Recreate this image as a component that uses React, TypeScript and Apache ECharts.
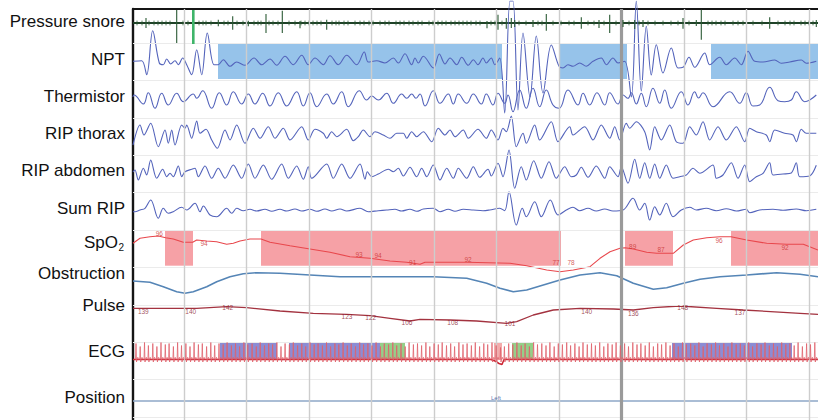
import React, { useEffect, useRef } from "react";
import * as echarts from "echarts";

// ---------- data (x in samples at 6.25 Hz, y in trace units) ----------
const SPAN = 685;
const channelNames = ["Pressure snore", "NPT", "Thermistor", "RIP thorax", "RIP abdomen", "Sum RIP", "SpO2", "Obstruction", "Pulse", "ECG", "Position"];
const gridTimes = [51, 113.5, 176, 238.5, 301, 363.5, 426, 551, 613.5, 676];
const markerTimes = [488.5];

const snoreSpikes = [[13,5,-5,0],[43.7,13,-20,0],[60.3,13,-21,1],[85.3,3.3,-3.3,0],[99.7,6.7,-6.7,0],[115.3,2.3,-3.3,0],[133,9,-10,0],[149.3,12.3,-10,0],[167,2,-5.3,0],[193.7,3.3,-6.7,0],[354,2,-5.3,0],[365,8.3,-6.7,0],[373.3,5,-5.7,0],[378.3,5,-5,0],[381.7,3,-4,0],[400,3,-4,0],[413.3,9,-7.7,0],[448.3,5.7,-5.7,0],[466,3,-5,0],[476.7,8.3,-10,0],[490,3,-4,0],[501.7,3,-6,0],[510,3,-4,0],[550,5,-5.7,0],[563.3,3,-3,0],[568.3,13.3,-16.7,0],[636.7,5.7,-5.7,0],[683.3,3,-4,0]];
const snoreTicks = [4,9,16,21,25,29,33,37,50,55,66,70,73,78,91,95,104,110,121,125,128,136,140,145,156,162,168,172,176,180,184,188,199,203,206,211,215,222,227,231,236,240,247,252,256,263,267,271,276,280,285,289,296,300,305,309,313,318,322,326,330,334,338,343,347,358,362,369,386,393,405,409,420,428,436,441,455,461,471,483,496,506,515,522,530,538,545,556,575,579,583,588,592,600,605,610,620,629,645,652,657,661,668,672,676,680];

const npt = [[0,-0.3],[8.7,0.3],[13.7,-13.7],[19.7,30.3],[26.3,-2],[30.3,-3.7],[33.7,2],[37.7,-3],[42,0.3],[45.3,-3.7],[49.7,3],[53.7,-3.7],[58.7,-13.7],[63.7,11.3],[68.7,-13.7],[74.3,28],[81,-3.7],[85.3,-3.7],[90.3,1.3],[97,-5.3],[103.7,-1],[112,-4.3],[121,3],[128.7,-3.7],[137,2],[143.7,-4.3],[152,4.7],[160.3,-3.7],[168.7,5.7],[175.3,-3.7],[182,3],[190.3,-3.7],[197,5.3],[205.3,-3.7],[213.7,5.7],[223.7,-3.7],[231.3,9],[235.3,-1],[243.7,0.3],[252,-2],[260.3,3],[265.3,-2],[272,7.3],[278.7,-3.7],[282,3],[285.3,-2],[290.3,4.7],[300.3,-7],[306.3,7],[312,-3],[317,3],[323.7,-3.7],[328.7,3.7],[335.3,-4.3],[340.3,1.3],[345,-3.7],[350,3],[353.3,-2],[358.3,3],[361.7,-3.7],[366.7,3],[371.7,-52],[377,60],[380,60],[385,-49],[390,28],[397,-36],[403.3,25],[410,-32],[418.3,16],[426,-5.3],[430,-7],[435,-3.7],[440,-5.3],[446.7,-2],[453.3,-5.3],[460,-0.3],[468.3,3],[473.3,-3.7],[480,3],[485,-2],[491.7,-0.3],[498.3,-36],[503.3,60],[508.3,-30],[513.3,34.7],[518.3,-14],[523.3,16.3],[530,-12],[538.3,13],[545,-7],[550,-6.3],[556,3.7],[561.7,-6.3],[571.7,8],[576.7,-3.7],[586.7,3.7],[593.3,-3.7],[601.7,3],[608.3,-3.7],[615,9.7],[621.7,-0.3],[630,-1],[641.7,1],[648.3,-2.3],[656.7,-1],[668.3,1],[673.3,-2.3],[683.3,-0.3]];
const nptEvents = [[85,369],[426,494],[578,685]];

const thermistor = [[0,3],[1,5],[10.3,-4],[15.3,7.3],[22,-8.3],[28.7,6.7],[35.3,-5],[43.7,6.7],[50.3,-1.7],[60.3,6],[63.7,1.7],[69.7,9.3],[78.7,-8.3],[86.3,7.3],[93.7,-5],[100.3,8.3],[108.7,-4],[115.3,6],[122,-4],[129.7,6.7],[137,-6],[145.3,7.3],[153.7,-6],[163.7,8.3],[170.3,-6],[177,7.3],[183.7,-6.7],[193.7,6],[200.3,-4],[208.7,8.3],[215.3,-6.7],[226.3,9.3],[233.7,0],[238.7,4],[245.3,0],[253.7,6.7],[260.3,-3.3],[268.7,6],[273.7,1.7],[278.7,6],[283,1.7],[287,6],[292,-6],[300.3,9.3],[307,-3.3],[315.3,6],[320.3,-4],[325.3,6],[333.7,-3.3],[340.3,6],[348.3,-4],[353.3,6],[360,-5],[365,6.7],[371.7,-3.3],[375,5],[380,-11.7],[386.7,10],[393.3,-8.3],[400,11.7],[406.7,-6.7],[413.3,10],[420,-5],[426,-8.3],[435,10],[445,-5],[450,6.7],[456.7,-5],[464,7.3],[471.7,-5],[476.7,7.3],[485,-4],[490,5],[495,1.7],[498.3,7.3],[503.3,-4],[508.3,6.7],[513.3,-6.7],[520,11.7],[526.7,-3.3],[531.7,10],[538.3,-8.3],[548.3,8.3],[555,-5],[561.7,8.3],[565.5,2],[570,7.3],[580,-6.7],[596.7,8.3],[606.7,-3.3],[613.3,7.3],[620,-6],[626.7,-5],[636.7,12.7],[645,-0.7],[651.7,-1.7],[658.3,0],[663.3,8.3],[671.7,-1.7],[676.7,0],[683.3,5]];

const ripThorax = [[0,-10],[7,10],[11,0],[17.7,11.7],[25.3,-11.7],[32,5],[35.3,-8.3],[38.7,5],[42,-10],[48.7,10],[52,6.7],[53.7,10],[58.7,-3.3],[63.7,14],[67,1.7],[73,5.7],[78.7,-5],[84.3,-13.3],[92,5],[97,-5],[103.7,10],[112,-8.3],[120.3,6.7],[127,-3.3],[135.3,8.3],[142,-3.3],[150.3,6.7],[157,-5],[168.7,8.3],[175.3,-5],[182,5.7],[190.3,1.7],[193.7,-3.3],[198.7,3.3],[203.7,-1.7],[213.7,5.7],[220.3,-5.7],[225.3,-1.7],[230.3,5],[237,-1.7],[242,3.3],[250.3,0],[257,-3.3],[263.7,1.7],[270.3,1.7],[273.7,-3.3],[278.7,3.3],[283.7,-1.7],[290.3,3.3],[298.7,-6.7],[305.3,6.7],[312,0],[317,5],[322,-1.7],[330.3,5],[335.3,-3.3],[345,5.7],[353.3,-3.3],[358.3,5],[365,-5],[370,6.7],[373.3,3.3],[378.3,19],[383.3,-11.7],[390,1.7],[393.3,-8.3],[401.7,10],[406.7,-5],[418.3,13.3],[425,-6.7],[436.7,8.3],[440,0],[451.7,8.3],[460,-5],[468.3,10],[476.7,-3.3],[481.7,8.3],[486.7,-5],[493.3,11.7],[496.7,6.7],[503.3,13.3],[511.7,3.3],[516.7,-15],[521.7,8.3],[528.3,-5],[536.7,10],[543.3,-6.7],[550,-8.3],[556.7,8.3],[563.3,0],[570,13.3],[576.7,-5],[585,8.3],[593.3,-5],[603.3,8.3],[611.7,-6.7],[616.7,6.7],[623.3,3.3],[633.3,0],[636.7,-6.7],[641.7,5],[651.7,1.7],[660,0],[663.3,-6.7],[668.3,5.7],[673.3,1.7],[683.3,1.7]];

const ripAbdomen = [[0,1],[2,3],[5.3,-7],[10.3,4.7],[13.7,-2],[17.7,13],[23.7,-5.3],[29.7,3.7],[33.7,-3.7],[37,-0.3],[40.3,-3.7],[45.3,7],[48.7,-3.7],[52,1.3],[58.7,3.7],[62,4.7],[65.3,-3.7],[72,7],[78.7,-5.3],[85.3,4.7],[92,-5.3],[100.3,8],[108.7,-5.3],[115.3,9],[122,-5.3],[130.3,8],[138.7,-6.3],[148.7,9],[155.3,-5.3],[163.7,7],[170.3,-6.3],[175.3,6.3],[178.7,-5.3],[193.7,9],[200.3,-5.3],[208.7,9],[217,-5.3],[227,9],[232,-6.3],[234.3,1.3],[238.7,-3.7],[245.3,-1],[255.3,3.7],[260.3,1.3],[265.3,4.7],[270.3,-3],[277,5.7],[283.7,-3.7],[288.7,4.7],[293.7,-3.7],[300.3,8],[307,-7],[313.7,4.7],[320.3,-5.3],[325.3,4.7],[333.7,-5.3],[340.3,6.3],[346.7,-4.3],[355,3.7],[358.3,-3],[365,9.7],[370,-3.7],[376,23],[381.7,-15.3],[388.3,6.3],[393.3,-7],[400.7,12.3],[408.3,-5.3],[416,11.3],[423.3,-5.3],[431.7,6.3],[438.3,-3.7],[443.3,-2],[448.3,5.7],[455,-4.3],[463.3,7],[471.7,-5.3],[476.7,6.3],[485,-3.7],[488.3,6.3],[495,-10.3],[501.7,13.7],[506.7,-5.3],[511.7,10.3],[516.7,-5.3],[521.7,9],[526.7,-5.3],[533.3,8],[540,-5.3],[546.7,-3.7],[553.3,-2],[560,4.7],[566.7,-0.3],[580,8],[583.3,-5.3],[590,-2],[598.3,10.3],[605,-5.3],[611.7,8],[616.7,-8.7],[623.3,-3.7],[630,-0.3],[636.7,10.3],[640,-2],[650,-1],[658.3,0],[663.3,10.3],[666.7,-3.7],[676.7,-3],[683.3,7.7]];

const sumRip = [[0,-1.7],[2,-1.7],[7,0],[12,1.7],[17.7,10],[25.3,-8.3],[30.3,1.7],[35.3,-3.3],[40.3,-1.7],[48.7,2.7],[53.7,0],[62,6.7],[67,-1.7],[70.3,4],[77,-5],[83.7,-6.7],[93.7,1.7],[98.7,-3.3],[103.7,1.7],[110.3,-0.7],[117,0.7],[123.7,-1],[132,0.7],[138.7,-1.3],[147,0.7],[153.7,-1],[162,1],[168.7,-1],[177,0.7],[183.7,-1.3],[192,1],[198.7,-1],[207,1],[213.7,-1],[227,1.7],[235.3,-1.7],[245.3,-0.7],[253.7,0],[262,0.7],[268.7,-1],[277,0.7],[283.7,-1.3],[290.3,1],[300.3,1.7],[307,-1.7],[315.3,0.7],[322,-1.3],[330.3,0.7],[340.3,0],[350,-0.7],[356.7,0],[366.7,1.7],[371.7,-0.7],[376,18.3],[383.3,-15],[389.3,1.7],[393.3,-6.7],[401.7,8.3],[408.3,-6.7],[417.3,10],[425,-5],[433.3,0],[440,2.7],[446.7,-0.7],[455,1.7],[463.3,-1],[471.7,1],[480,-1],[490,0],[500,11.7],[506.7,0],[511.7,6.7],[516.7,-10],[521.7,3.3],[526.7,-5],[533.3,6.7],[540,-6.7],[548.3,0],[556.7,2.7],[563.3,0],[573.3,1.7],[583.3,-0.7],[593.3,1.3],[603.3,-1],[613.3,0.7],[616.7,-2.7],[626.7,0],[640,0.7],[650,-0.3],[663.3,1],[673.3,-0.7],[683.3,0.7]];

const spo2 = [[0,6.7],[7,11.7],[17,13.3],[25.3,14],[32.7,12.3],[40.3,11],[50.3,7.7],[59.7,7.7],[63.7,10],[73.7,9],[83.7,8.3],[93.7,5.7],[100.3,6.7],[107,9],[117,11],[128,11],[137,7.7],[157,4.3],[177,1],[197,-2.3],[217,-6.7],[237,-8.3],[257,-11],[273.7,-12.3],[280.3,-13.3],[287,-14.3],[292,-12.3],[333.7,-12.3],[377,-13.3],[393.7,-15.7],[413.7,-20],[427,-21.7],[440.3,-20],[457,-16.7],[467,-8.3],[477,-1.7],[487,1.7],[492,2.3],[500.3,1],[513.7,-2.3],[523.7,-3.3],[540.3,-3.3],[550.3,5],[560.3,10],[573.7,12.3],[587,13.3],[598,13.3],[613.7,10],[633.7,6.7],[653.7,5.7],[670.3,5.7],[685,0]];
const spo2Events = [[32,60],[128,428],[492,540],[598,685]];
const spo2Labels = [[26.3,16.7,"96"],[71,6.7,"94"],[226,-4,"93"],[245,-5.7,"94"],[279.7,-12.7,"91"],[335,-9.3,"92"],[423,-12.7,"77"],[438,-12.7,"78"],[499.7,3.3,"89"],[528,0.7,"87"],[586,10,"96"],[652,2.3,"92"]];

const obstruction = [[0,2],[17,0.7],[30.3,-3.7],[43.7,-8.7],[52,-10.3],[60.3,-8.7],[73.7,-3.7],[83.7,1.3],[97,6.3],[110.3,9.3],[123.7,10.3],[147,9.7],[177,8],[207,6.3],[237,6.3],[277,6.3],[300.3,6.3],[333.7,4.7],[353.7,-0.3],[367,-5.3],[380.3,-8.7],[393.7,-7],[410.3,-2],[427,3],[447,8],[467,10.3],[483.7,7.3],[500.3,-0.3],[520.3,-6.3],[533.7,-4.7],[550.3,-0.3],[567,3.7],[587,6.3],[613.7,8],[643.7,10.3],[667,8.7],[685,6.3]];

const pulse = [[0,1.7],[30.3,1.7],[63.7,1.7],[93.7,3.3],[113.7,2.3],[147,-1],[180.3,-3.3],[213.7,-4.3],[237,-5.7],[257,-8.3],[277,-11],[287,-9.3],[317,-10],[343.7,-11],[373.7,-13.3],[383.7,-11.7],[400.3,-5],[420.3,0],[447,1.7],[480.3,1],[500.3,0],[520.3,2.3],[547,4],[583.7,1.7],[610.3,0],[650.3,-2.3],[667,-3.3],[685,-4.3]];
const pulseLabels = [[10.3,-1.7,"139"],[57.7,-1.7,"140"],[94.7,3,"142"],[214,-6.7,"123"],[237.7,-7.3,"122"],[274,-12.7,"106"],[319.7,-12.7,"108"],[377,-13.3,"101"],[453.7,-1.7,"140"],[500.3,-3.3,"136"],[549.7,2.7,"148"],[607,-2.3,"137"],[686,-5.7,"128"]];

const ecgBeats = [[3,16],[7.2,13],[11.5,17],[15.4,14],[19.8,16],[23.9,13],[28,17],[32.3,15],[36.1,16],[40.4,13],[44.6,17],[48.5,14],[52.9,16],[57,13],[61.1,17],[65.4,15],[69.3,16],[73.6,13],[77.8,17],[81.7,14],[86,16],[90.2,15],[94.1,17],[98.4,14],[102.5,16],[106.6,13],[110.9,17],[114.8,15],[119.1,16],[123.3,13],[127.2,17],[131.5,14],[135.7,16],[139.6,15],[143.9,17],[148,13],[152.1,16],[156.4,15],[160.3,17],[164.6,14],[168.8,16],[172.7,13],[177,17],[181.2,15],[185.1,16],[189.4,14],[193.5,17],[197.6,13],[201.9,16],[205.8,15],[210.1,17],[214.3,14],[218.2,16],[222.5,13],[226.7,17],[230.6,15],[234.9,16],[239,14],[243.1,17],[247.4,13],[251.3,16],[255.6,15],[259.8,17],[263.7,14],[268,16],[272.2,13],[276.1,17],[280.4,15],[284.5,16],[288.6,14],[292.9,17],[296.8,13],[301.1,16],[305.3,15],[309.2,17],[313.5,14],[317.7,16],[321.6,13],[325.9,17],[330,15],[334.1,16],[338.4,14],[342.3,17],[346.6,13],[350.8,16],[354.7,15],[359,17],[363.2,14],[367.5,12],[371.4,13],[375.7,16],[379.8,15],[383.9,17],[388.2,14],[392.1,16],[396.4,13],[400.6,17],[404.5,15],[408.8,16],[413,14],[416.9,17],[421.2,13],[425.3,16],[429.4,15],[433.7,17],[437.6,14],[441.9,16],[446.1,13],[450,17],[454.3,15],[458.5,16],[462.4,14],[466.7,17],[470.8,13],[474.9,16],[479.2,15],[483.1,17],[487.4,14],[491.6,16],[495.5,13],[499.8,17],[504,15],[507.9,16],[512.2,14],[516.3,17],[520.4,13],[524.7,16],[528.6,15],[532.9,17],[537.1,14],[541,16],[545.3,13],[549.5,17],[553.4,15],[557.7,16],[561.8,14],[565.9,17],[570.2,13],[574.1,16],[578.4,15],[582.6,17],[586.5,14],[590.8,16],[595,13],[598.9,17],[603.2,15],[607.3,16],[611.4,14],[615.7,17],[619.6,13],[623.9,16],[628.1,15],[632,17],[636.3,14],[640.5,16],[644.4,13],[648.7,17],[652.8,15],[656.9,16],[661.2,14],[665.1,17],[669.4,13],[673.6,16],[677.5,15],[681.8,17]];
const ecgBaseline = [[0,0],[358,0],[362,-1.5],[366,-4],[369,-5],[371,0],[685,0]];
const ecgEvents = [[87,144,"b"],[156,247,"b"],[247,272,"g"],[361,369,"r"],[379,400,"g"],[539,659,"b"]];

const position = [[0,0],[SPAN,0]];
const positionLabels = [[363,3,"Left"]];

// ---------- layout (pixels) ----------
const PLOT_LEFT = 133;
const PLOT_TOP = 9;
const LABEL_X = 125;
const labelYs = [21, 59, 96, 133, 170, 208, 242, 273, 305, 351, 397];
const centers = [23, 61, 100, 135, 173, 210, 250, 283, 310, 359.5, 401];
const halves = [23, 60, 60, 60, 60, 60, 40, 40, 40, 40, 19];
const rowLines = [34, 71.4, 108.8, 146.2, 183.6, 221, 258.4, 295.8, 333.2, 370.6, 408];

const RESP = "#5363bb";
const FONT = '"Liberation Sans", Arial, Helvetica, sans-serif';

function buildOption() {
  const grid: any[] = [{ left: PLOT_LEFT, right: 0, top: PLOT_TOP, bottom: 0 }];
  const xAxis: any[] = [{
    type: "value", gridIndex: 0, min: 0, max: SPAN, position: "top",
    axisLine: { show: true, onZero: false, lineStyle: { color: "#151515", width: 2 } },
    axisTick: { show: false }, axisLabel: { show: false }, splitLine: { show: false },
  }];
  const yAxis: any[] = [{
    type: "value", gridIndex: 0, min: 0, max: 411, inverse: true,
    axisLine: { show: true, onZero: false, lineStyle: { color: "#151515", width: 2.4 } },
    axisTick: { show: false }, axisLabel: { show: false }, splitLine: { show: false },
  }];
  centers.forEach((c, i) => {
    const h = halves[i];
    grid.push({ left: PLOT_LEFT, right: 0, top: c - h, height: 2 * h });
    xAxis.push({ type: "value", gridIndex: i + 1, min: 0, max: SPAN, show: false });
    yAxis.push({ type: "value", gridIndex: i + 1, min: -h, max: h, show: false });
  });
  const ax = (k: number) => ({ xAxisIndex: k + 1, yAxisIndex: k + 1 });

  const line = (k: number, data: any[], color: string, width: number, smooth: number | boolean, extra: any = {}) => ({
    type: "line", ...ax(k), data, showSymbol: false, symbol: "none", smooth, silent: true,
    lineStyle: { color, width }, z: 3, ...extra,
  });

  const series: any[] = [];
  // background frame lines
  series.push({
    type: "line", xAxisIndex: 0, yAxisIndex: 0, data: [[0, 0]], showSymbol: false, silent: true,
    lineStyle: { width: 0 },
    markLine: {
      silent: true, symbol: ["none", "none"], label: { show: false },
      data: [
        ...rowLines.map((y) => ({ yAxis: y, lineStyle: { color: "#ebebeb", width: 1, type: "solid" } })),
        ...gridTimes.map((t) => ({ xAxis: t, lineStyle: { color: "#cdcdcd", width: 1.4, type: "solid" } })),
        ...markerTimes.map((t) => ({ xAxis: t, lineStyle: { color: "#9a9a9a", width: 3.2, type: "solid" } })),
      ],
    },
  });

  // Pressure snore
  series.push(line(0, [[0, 0], [SPAN, 0]], "#1f4227", 2.2, false));
  series.push({
    type: "custom", ...ax(0), data: snoreTicks.map((t) => [t]), silent: true, z: 4,
    renderItem: (p: any, api: any) => {
      const a = api.coord([api.value(0), 2.4]);
      const b = api.coord([api.value(0), -2.4]);
      return { type: "line", shape: { x1: a[0], y1: a[1], x2: b[0], y2: b[1] }, style: { stroke: "#2e5a36", lineWidth: 0.8 } };
    },
  });
  series.push({
    type: "custom", ...ax(0), data: snoreSpikes, silent: true, z: 5,
    encode: { x: 0, y: [1, 2] },
    renderItem: (p: any, api: any) => {
      const t = api.value(0);
      const a = api.coord([t, api.value(1)]);
      const b = api.coord([t, api.value(2)]);
      const hl = api.value(3) === 1;
      return { type: "line", shape: { x1: a[0], y1: a[1], x2: b[0], y2: b[1] }, style: { stroke: hl ? "#3fb56a" : "#2b5a34", lineWidth: hl ? 2.6 : 1.1 } };
    },
  });

  // NPT
  series.push(line(1, npt, RESP, 1.1, 0.35, {
    markArea: {
      silent: true, itemStyle: { color: "rgba(110,172,226,0.72)" },
      data: nptEvents.map(([a, b]) => [{ xAxis: a, yAxis: 17 }, { xAxis: b, yAxis: -18 }]),
    },
  }));
  series.push(line(2, thermistor, RESP, 1.1, 0.45));
  series.push(line(3, ripThorax, RESP, 1.1, 0.3));
  series.push(line(4, ripAbdomen, RESP, 1.1, 0.3));
  series.push(line(5, sumRip, RESP, 1.1, 0.35));

  // SpO2
  series.push(line(6, spo2, "#e8474c", 1.1, false, {
    markArea: {
      silent: true, itemStyle: { color: "rgba(242,112,120,0.66)" },
      data: spo2Events.map(([a, b]) => [{ xAxis: a, yAxis: 19.3 }, { xAxis: b, yAxis: -15.7 }]),
    },
  }));
  series.push({
    type: "scatter", ...ax(6), data: spo2Labels, symbolSize: 0, silent: true, z: 6,
    label: { show: true, position: "inside", formatter: (p: any) => p.value[2], fontSize: 6.5, color: "#c9302f", fontFamily: FONT },
  });

  // Obstruction
  series.push(line(7, obstruction, "#5585b6", 1.6, false));
  // Pulse
  series.push(line(8, pulse, "#a3323f", 1.3, false));
  series.push({
    type: "scatter", ...ax(8), data: pulseLabels, symbolSize: 0, silent: true, z: 6,
    label: { show: true, position: "inside", formatter: (p: any) => p.value[2], fontSize: 6.5, color: "#8a2431", fontFamily: FONT },
  });

  // ECG
  const ecgColors: any = { b: "rgba(96,96,196,0.72)", g: "rgba(108,188,92,0.72)", r: "rgba(238,118,118,0.62)" };
  series.push(line(9, ecgBaseline, "#cc2432", 1.5, false, {
    markArea: {
      silent: true,
      data: ecgEvents.map(([a, b, k]) => [{ xAxis: a, yAxis: 17.5, itemStyle: { color: ecgColors[k as string] } }, { xAxis: b, yAxis: -0.5 }]),
    },
  }));
  series.push({
    type: "custom", ...ax(9), data: ecgBeats, silent: true, z: 5,
    renderItem: (p: any, api: any) => {
      const t = api.value(0);
      const h = api.value(1);
      const pts = [[t - 0.5, 0], [t, h], [t + 0.5, -2.5], [t + 1, 0], [t + 1.8, 2.2], [t + 2.6, 0]].map((q) => api.coord(q));
      return { type: "polyline", shape: { points: pts }, style: { stroke: "#e0626c", lineWidth: 0.8, fill: null } };
    },
  });

  // Position
  series.push(line(10, position, "#8ea7c7", 1.3, false));
  series.push({
    type: "scatter", ...ax(10), data: positionLabels, symbolSize: 0, silent: true, z: 6,
    label: { show: true, position: "inside", formatter: (p: any) => p.value[2], fontSize: 6, color: "#2f4f9a", fontFamily: FONT },
  });

  const labelFont = `17px ${FONT}`;
  const graphic: any[] = [];
  channelNames.forEach((name, i) => {
    if (name === "SpO2") {
      graphic.push({ type: "text", x: LABEL_X - 7, y: labelYs[i], silent: true, style: { text: "SpO", font: labelFont, fill: "#111", align: "right", verticalAlign: "middle", textAlign: "right", textVerticalAlign: "middle" } });
      graphic.push({ type: "text", x: LABEL_X - 6.5, y: labelYs[i] + 5, silent: true, style: { text: "2", font: `10px ${FONT}`, fill: "#111", align: "left", verticalAlign: "middle", textAlign: "left", textVerticalAlign: "middle" } });
    } else {
      graphic.push({ type: "text", x: LABEL_X, y: labelYs[i], silent: true, style: { text: name, font: labelFont, fill: "#111", align: "right", verticalAlign: "middle", textAlign: "right", textVerticalAlign: "middle" } });
    }
  });

  return { animation: false, backgroundColor: "#ffffff", grid, xAxis, yAxis, series, graphic };
}

export default function App() {
  const ref = useRef<HTMLDivElement>(null);
  useEffect(() => {
    document.body.style.margin = "0";
    if (!ref.current) return;
    const chart = echarts.init(ref.current, undefined, { renderer: "svg" });
    chart.setOption(buildOption() as any);
    return () => chart.dispose();
  }, []);
  return <div ref={ref} style={{ width: 818, height: 420 }} />;
}
